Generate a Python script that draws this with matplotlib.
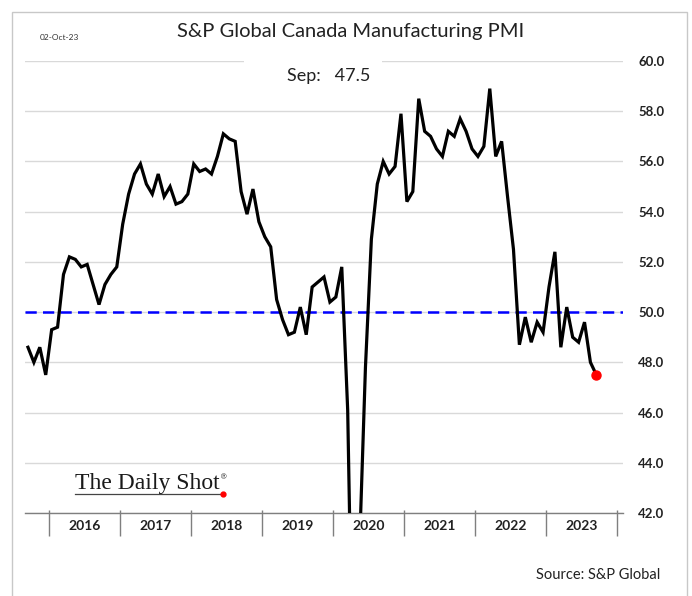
import matplotlib
matplotlib.use("Agg")
import matplotlib.pyplot as plt
from matplotlib.patches import Rectangle

# Canada manufacturing PMI, Sep 2015 .. Sep 2023 (monthly)
pmi_2015 = [48.6, 48.0, 48.6, 47.5]
pmi_2016 = [49.3, 49.4, 51.5, 52.2, 52.1, 51.8, 51.9, 51.1, 50.3, 51.1, 51.5, 51.8]
pmi_2017 = [53.5, 54.7, 55.5, 55.9, 55.1, 54.7, 55.5, 54.6, 55.0, 54.3, 54.4, 54.7]
pmi_2018 = [55.9, 55.6, 55.7, 55.5, 56.2, 57.1, 56.9, 56.8, 54.8, 53.9, 54.9, 53.6]
pmi_2019 = [53.0, 52.6, 50.5, 49.7, 49.1, 49.2, 50.2, 49.1, 51.0, 51.2, 51.4, 50.4]
pmi_2020 = [50.6, 51.8, 46.1, 33.0, 40.6, 47.8, 52.9, 55.1, 56.0, 55.5, 55.8, 57.9]
pmi_2021 = [54.4, 54.8, 58.5, 57.2, 57.0, 56.5, 56.2, 57.2, 57.0, 57.7, 57.2, 56.5]
pmi_2022 = [56.2, 56.6, 58.9, 56.2, 56.8, 54.6, 52.5, 48.7, 49.8, 48.8, 49.6, 49.2]
pmi_2023 = [51.0, 52.4, 48.6, 50.2, 49.0, 48.8, 49.6, 48.0, 47.5]
years = ["2016", "2017", "2018", "2019", "2020", "2021", "2022", "2023"]
yticks = [42, 44, 46, 48, 50, 52, 54, 56, 58, 60]

pmi = pmi_2015 + pmi_2016 + pmi_2017 + pmi_2018 + pmi_2019 + pmi_2020 + pmi_2021 + pmi_2022 + pmi_2023
# month index relative to Jan 2016, plotted mid-month
xs = [i - len(pmi_2015) + 0.5 for i in range(len(pmi))]

FONT = "Lato"

def main():
    fig = plt.figure(figsize=(6.92, 5.96), dpi=100)
    W, H = 692, 596
    # outer frame
    fig.patches.append(Rectangle((12 / W, -0.05), (687 - 12) / W, 1.05 - 12 / H,
                                 transform=fig.transFigure, fill=False,
                                 edgecolor="#c8c8c8", lw=1))
    ax = fig.add_axes([25 / W, 1 - 513 / H, (623 - 25) / W, (513 - 61) / H])
    ax.set_xlim(-4, 97)
    ax.set_ylim(42, 60)

    for s in ["top", "left", "right"]:
        ax.spines[s].set_visible(False)
    ax.spines["bottom"].set_color("#7f7f7f")
    ax.spines["bottom"].set_linewidth(1.0)

    ax.set_yticks(yticks)
    ax.yaxis.tick_right()
    ax.set_yticklabels(["%.1f" % v for v in yticks], fontfamily=FONT,
                       fontweight="bold", fontsize=9.5, color="#222222")
    ax.tick_params(axis="y", length=0, pad=11)
    ax.set_xticks([])
    ax.grid(axis="y", color="#d9d9d9", lw=1)
    ax.set_axisbelow(True)

    # year separators and labels
    ax.vlines([12 * k for k in range(len(years) + 1)], -0.051, 0.007,
              transform=ax.get_xaxis_transform(), color="#7f7f7f", lw=1, clip_on=False)
    for k, yr in enumerate(years):
        ax.text(12 * k + 6, -0.028, yr, transform=ax.get_xaxis_transform(),
                ha="center", va="center", fontfamily=FONT, fontweight="bold",
                fontsize=10, color="#222222")

    ax.axhline(50, color="#0000ff", lw=1.8, ls=(0, (4.5, 2.5)), zorder=2)
    ax.plot(xs, pmi, color="black", lw=2.3, zorder=3, solid_joinstyle="miter")
    ax.plot(xs[-1], pmi[-1], "o", color="red", ms=6.5, zorder=4)

    # white box breaking the top gridline behind the latest value
    ax.add_patch(Rectangle(((244 - 25) / 598, 0.96), (382 - 244) / 598, 0.08,
                           transform=ax.transAxes, facecolor="white",
                           edgecolor="none", clip_on=False, zorder=1.5))
    fig.text(329 / W, 1 - 76 / H, "Sep:   %.1f" % pmi[-1], ha="center", va="center",
             fontfamily=FONT, fontsize=13, color="#222222")

    fig.text(351 / W, 1 - 31 / H, "S&P Global Canada Manufacturing PMI",
             ha="center", va="center", fontfamily=FONT, fontsize=14.5, color="#222222")
    fig.text(40 / W, 1 - 38 / H, "02-Oct-23", ha="left", va="center",
             fontfamily=FONT, fontsize=6, color="#333333")
    fig.text(660 / W, 1 - 575 / H, "Source: S&P Global", ha="right", va="center",
             fontfamily=FONT, fontsize=10.5, color="#222222")

    # logo
    fig.text(75 / W, 1 - 489 / H, "The Daily Shot", ha="left", va="baseline",
             fontfamily="Liberation Serif", fontsize=17, color="#1a1a1a")
    fig.text(220 / W, 1 - 479 / H, "®", ha="left", va="baseline",
             fontfamily="DejaVu Serif", fontsize=5.5, color="#222222")
    fig.add_artist(plt.Line2D([75 / W, 220 / W], [1 - 494 / H, 1 - 494 / H],
                              transform=fig.transFigure, color="#444444", lw=0.9))
    fig.add_artist(plt.Line2D([223 / W], [1 - 494 / H], transform=fig.transFigure,
                              marker="o", color="red", ms=3.5))

    fig.savefig("out.png", dpi=100)
    plt.close(fig)

if __name__ == "__main__":
    main()
